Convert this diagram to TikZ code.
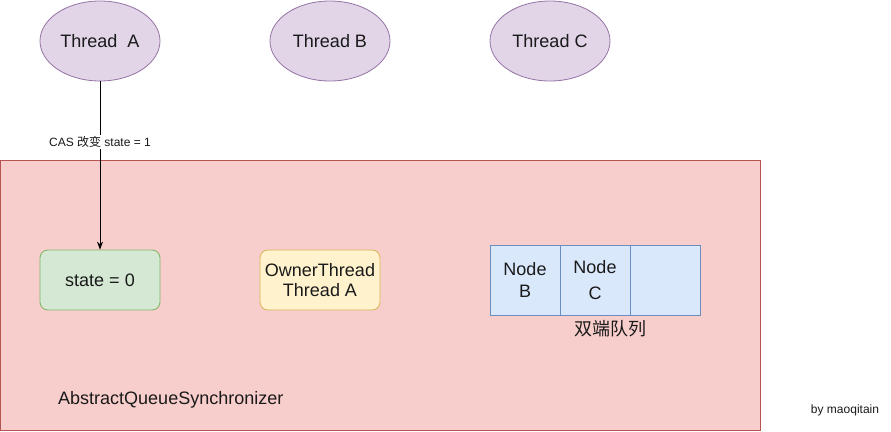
\documentclass[tikz,border=0pt]{standalone}
\usepackage{fontspec}
\setmainfont{Liberation Sans}
\newfontfamily\cjk{Noto Sans CJK SC}
\usetikzlibrary{shapes.geometric,arrows.meta}
\definecolor{thfill}{HTML}{E1D5E7}
\definecolor{thdraw}{HTML}{9673A6}
\definecolor{bgfill}{HTML}{F8CECC}
\definecolor{bgdraw}{HTML}{B85450}
\definecolor{stfill}{HTML}{D5E8D4}
\definecolor{stdraw}{HTML}{82B366}
\definecolor{owfill}{HTML}{FFF2CC}
\definecolor{owdraw}{HTML}{D6B656}
\definecolor{qfill}{HTML}{DAE8FC}
\definecolor{qdraw}{HTML}{6C8EBF}
\definecolor{txt}{HTML}{1A1A1A}
\tikzset{
  big/.style={font=\fontsize{18}{22}\selectfont, text=txt},
  small/.style={font=\fontsize{12}{14}\selectfont, text=txt},
  thread/.style={ellipse, draw=thdraw, fill=thfill, line width=0.8pt, minimum width=120pt, minimum height=80pt, inner sep=0pt, big},
  rbox/.style={rectangle, rounded corners=8pt, line width=0.8pt, minimum width=120pt, minimum height=60pt, inner sep=0pt, align=center, big},
  cell/.style={rectangle, draw=qdraw, fill=qfill, line width=0.8pt, minimum width=70pt, minimum height=70pt, inner sep=0pt, align=center, big}
}
\begin{document}
\begin{tikzpicture}[x=1pt,y=-1pt]
\useasboundingbox[fill=white] (0,0) rectangle (891,431);
\node[rectangle, draw=bgdraw, fill=bgfill, line width=0.8pt, minimum width=760pt, minimum height=270pt, inner sep=0pt] (aqs) at (380,295) {};
\node[thread] (ta) at (100,41) {Thread\ \ A};
\node[thread] (tb) at (330,41) {Thread B};
\node[thread] (tc) at (550,41) {Thread C};
\node[rbox, draw=stdraw, fill=stfill] (state) at (100,280) {state = 0};
\node[rbox, draw=owdraw, fill=owfill] (owner) at (320,280) {OwnerThread\\[-2pt]Thread A};
\node[cell] (qb) at (525,280) {Node\\B};
\node[cell, font=\fontsize{18}{26}\selectfont] (qc) at (595,280) {Node\\C};
\node[cell] (qe) at (665,280) {};
\node[big, anchor=center] (deque) at (610,329) {\cjk 双端队列};
\node[big, anchor=west, inner sep=0pt] (aqsl) at (58,400) {AbstractQueueSynchronizer};
\node[small, anchor=center] (by) at (845,410) {by maoqitain};
\draw[line width=0.8pt, -{Stealth[length=8pt,width=6pt]}] (ta.south) -- node[pos=0.36, fill=white, small, inner sep=1pt] (cas) {CAS {\cjk 改变} state = 1} (state.north);
\end{tikzpicture}
\end{document}
